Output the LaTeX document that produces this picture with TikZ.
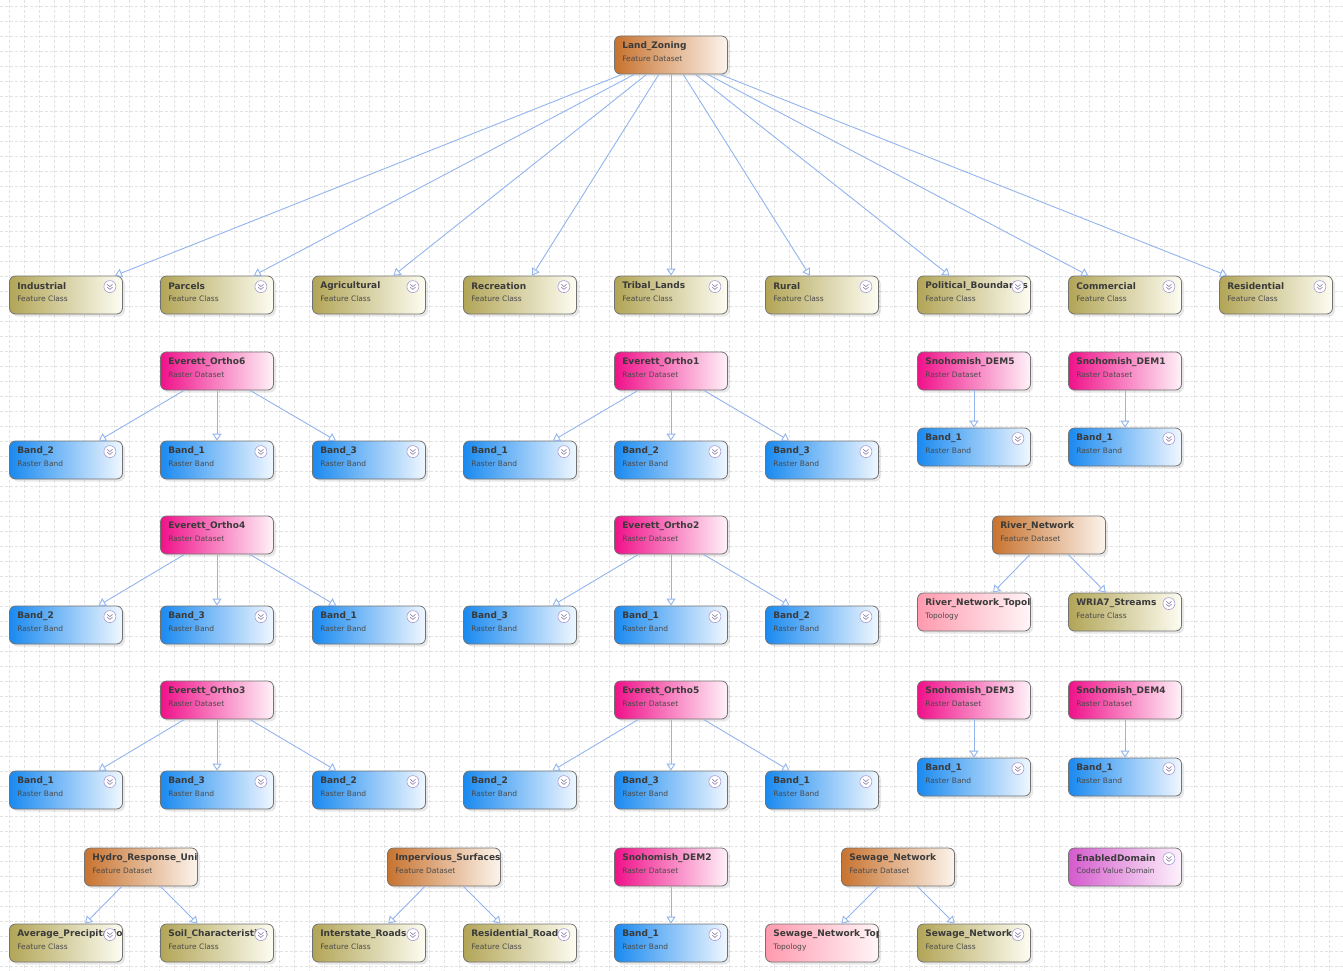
\documentclass[tikz,border=0pt]{standalone}
\usepackage{fontspec}
\setmainfont{DejaVu Sans}
\usetikzlibrary{arrows.meta,shadows,calc}
\definecolor{edgeblue}{HTML}{93B5EE}
\definecolor{gridc}{HTML}{E2E2E2}
\definecolor{fdL}{HTML}{C8732F}\definecolor{fdR}{HTML}{FCF4EC}
\definecolor{fcL}{HTML}{B2A557}\definecolor{fcR}{HTML}{FDFDF2}
\definecolor{rdL}{HTML}{F0118A}\definecolor{rdR}{HTML}{FFF2F8}
\definecolor{rbL}{HTML}{1A8AF0}\definecolor{rbR}{HTML}{F0F7FF}
\definecolor{tpL}{HTML}{FF9AAE}\definecolor{tpR}{HTML}{FFF6F8}
\definecolor{cvL}{HTML}{D45BCD}\definecolor{cvR}{HTML}{FDF2FC}
\definecolor{bordc}{HTML}{727272}
\definecolor{namec}{HTML}{3A3A3A}
\definecolor{subc}{HTML}{4A4A4A}
\definecolor{iconc}{HTML}{A99BD2}
\tikzset{
  box/.style={rectangle, rounded corners=6pt, minimum width=113pt, minimum height=38pt,
    inner sep=0pt, draw=bordc, line width=0.8pt,
    drop shadow={shadow xshift=2.5pt, shadow yshift=-2.5pt, opacity=0.18}},
  fd/.style={left color=fdL, right color=fdR},
  fc/.style={left color=fcL, right color=fcR},
  rd/.style={left color=rdL, right color=rdR},
  rb/.style={left color=rbL, right color=rbR},
  tp/.style={left color=tpL, right color=tpR},
  cv/.style={left color=cvL, right color=cvR},
  nametext/.style={inner sep=0pt, anchor=west, text=namec, font=\fontsize{9}{11}\selectfont\bfseries},
  subtext/.style={inner sep=0pt, anchor=west, text=subc, font=\fontsize{7.5}{9}\selectfont},
  edge/.style={draw=edgeblue, line width=0.9pt, -{Triangle[open,length=7pt,width=9pt]}},
  gridline/.style={draw=gridc, line width=0.5pt, dash pattern=on 3pt off 2pt}
}
\newcommand\gnode[6]{%
  \node[box,#4] (#1) at (#2,#3) {};
  \begin{scope}
    \clip[rounded corners=6pt] (#1.south west) rectangle (#1.north east);
    \node[nametext] at ([xshift=8pt,yshift=-10.5pt]#1.north west) {#5};
    \node[subtext] at ([xshift=8pt,yshift=-23.5pt]#1.north west) {#6};
  \end{scope}}
\newcommand\chev[1]{%
  \begin{scope}[shift={([xshift=-13pt,yshift=-11pt]#1.north east)}]
    \draw[iconc, line width=0.6pt, fill=white] (0pt,0pt) circle (6pt);
    \draw[iconc!80!black, line width=0.6pt] (-2.6pt,2.2pt) -- (0pt,0pt) -- (2.6pt,2.2pt);
    \draw[iconc!80!black, line width=0.6pt] (-2.6pt,-0.6pt) -- (0pt,-2.8pt) -- (2.6pt,-0.6pt);
  \end{scope}}
\begin{document}
\begin{tikzpicture}[x=1pt,y=-1pt]
\useasboundingbox (0,0) rectangle (1343,971);
\fill[white] (0,0) rectangle (1343,971);
\foreach \gx in {9,24,...,1343} \draw[gridline] (\gx,0) -- (\gx,971);
\foreach \gy in {6,21,...,971} \draw[gridline] (0,\gy) -- (1343,\gy);

% top
\gnode{lz}{671}{55}{fd}{Land\_Zoning}{Feature Dataset}
% feature classes row
\gnode{ind}{66}{295}{fc}{Industrial}{Feature Class}
\gnode{par}{217}{295}{fc}{Parcels}{Feature Class}
\gnode{agr}{369}{295}{fc}{Agricultural}{Feature Class}
\gnode{rec}{520}{295}{fc}{Recreation}{Feature Class}
\gnode{tri}{671}{295}{fc}{Tribal\_Lands}{Feature Class}
\gnode{rur}{822}{295}{fc}{Rural}{Feature Class}
\gnode{pol}{974}{295}{fc}{Political\_Boundaries}{Feature Class}
\gnode{com}{1125}{295}{fc}{Commercial}{Feature Class}
\gnode{res}{1276}{295}{fc}{Residential}{Feature Class}
% row 2 datasets
\gnode{o6}{217}{371}{rd}{Everett\_Ortho6}{Raster Dataset}
\gnode{o1}{671}{371}{rd}{Everett\_Ortho1}{Raster Dataset}
\gnode{d5}{974}{371}{rd}{Snohomish\_DEM5}{Raster Dataset}
\gnode{d1}{1125}{371}{rd}{Snohomish\_DEM1}{Raster Dataset}
\gnode{o6b2}{66}{460}{rb}{Band\_2}{Raster Band}
\gnode{o6b1}{217}{460}{rb}{Band\_1}{Raster Band}
\gnode{o6b3}{369}{460}{rb}{Band\_3}{Raster Band}
\gnode{o1b1}{520}{460}{rb}{Band\_1}{Raster Band}
\gnode{o1b2}{671}{460}{rb}{Band\_2}{Raster Band}
\gnode{o1b3}{822}{460}{rb}{Band\_3}{Raster Band}
\gnode{d5b1}{974}{447}{rb}{Band\_1}{Raster Band}
\gnode{d1b1}{1125}{447}{rb}{Band\_1}{Raster Band}
% row 3
\gnode{o4}{217}{535}{rd}{Everett\_Ortho4}{Raster Dataset}
\gnode{o2}{671}{535}{rd}{Everett\_Ortho2}{Raster Dataset}
\gnode{rn}{1049}{535}{fd}{River\_Network}{Feature Dataset}
\gnode{o4b2}{66}{625}{rb}{Band\_2}{Raster Band}
\gnode{o4b3}{217}{625}{rb}{Band\_3}{Raster Band}
\gnode{o4b1}{369}{625}{rb}{Band\_1}{Raster Band}
\gnode{o2b3}{520}{625}{rb}{Band\_3}{Raster Band}
\gnode{o2b1}{671}{625}{rb}{Band\_1}{Raster Band}
\gnode{o2b2}{822}{625}{rb}{Band\_2}{Raster Band}
\gnode{rnt}{974}{612}{tp}{River\_Network\_Topology}{Topology}
\gnode{wria}{1125}{612}{fc}{WRIA7\_Streams}{Feature Class}
% row 4
\gnode{o3}{217}{700}{rd}{Everett\_Ortho3}{Raster Dataset}
\gnode{o5}{671}{700}{rd}{Everett\_Ortho5}{Raster Dataset}
\gnode{d3}{974}{700}{rd}{Snohomish\_DEM3}{Raster Dataset}
\gnode{d4}{1125}{700}{rd}{Snohomish\_DEM4}{Raster Dataset}
\gnode{o3b1}{66}{790}{rb}{Band\_1}{Raster Band}
\gnode{o3b3}{217}{790}{rb}{Band\_3}{Raster Band}
\gnode{o3b2}{369}{790}{rb}{Band\_2}{Raster Band}
\gnode{o5b2}{520}{790}{rb}{Band\_2}{Raster Band}
\gnode{o5b3}{671}{790}{rb}{Band\_3}{Raster Band}
\gnode{o5b1}{822}{790}{rb}{Band\_1}{Raster Band}
\gnode{d3b1}{974}{777}{rb}{Band\_1}{Raster Band}
\gnode{d4b1}{1125}{777}{rb}{Band\_1}{Raster Band}
% row 5
\gnode{hru}{141}{867}{fd}{Hydro\_Response\_Units}{Feature Dataset}
\gnode{imp}{444}{867}{fd}{Impervious\_Surfaces}{Feature Dataset}
\gnode{d2}{671}{867}{rd}{Snohomish\_DEM2}{Raster Dataset}
\gnode{sew}{898}{867}{fd}{Sewage\_Network}{Feature Dataset}
\gnode{ed}{1125}{867}{cv}{EnabledDomain}{Coded Value Domain}
\gnode{avg}{66}{943}{fc}{Average\_Precipitation}{Feature Class}
\gnode{soil}{217}{943}{fc}{Soil\_Characteristics}{Feature Class}
\gnode{inter}{369}{943}{fc}{Interstate\_Roads}{Feature Class}
\gnode{resr}{520}{943}{fc}{Residential\_Roads}{Feature Class}
\gnode{d2b1}{671}{943}{rb}{Band\_1}{Raster Band}
\gnode{sewt}{822}{943}{tp}{Sewage\_Network\_Topology}{Topology}
\gnode{sewfc}{974}{943}{fc}{Sewage\_Network}{Feature Class}

% icons
\foreach \n in {ind,par,agr,rec,tri,rur,pol,com,res,
  o6b2,o6b1,o6b3,o1b1,o1b2,o1b3,d5b1,d1b1,
  o4b2,o4b3,o4b1,o2b3,o2b1,o2b2,wria,
  o3b1,o3b3,o3b2,o5b2,o5b3,o5b1,d3b1,d4b1,
  ed,avg,soil,inter,resr,d2b1,sewfc} {\chev{\n}}

% connectors
\foreach \c in {ind,par,agr,rec,tri,rur,pol,com,res} \draw[edge] (lz) -- (\c);
\foreach \c in {o6b2,o6b1,o6b3} \draw[edge] (o6) -- (\c);
\foreach \c in {o1b1,o1b2,o1b3} \draw[edge] (o1) -- (\c);
\draw[edge] (d5) -- (d5b1);
\draw[edge] (d1) -- (d1b1);
\foreach \c in {o4b2,o4b3,o4b1} \draw[edge] (o4) -- (\c);
\foreach \c in {o2b3,o2b1,o2b2} \draw[edge] (o2) -- (\c);
\draw[edge] (rn) -- (rnt);
\draw[edge] (rn) -- (wria);
\foreach \c in {o3b1,o3b3,o3b2} \draw[edge] (o3) -- (\c);
\foreach \c in {o5b2,o5b3,o5b1} \draw[edge] (o5) -- (\c);
\draw[edge] (d3) -- (d3b1);
\draw[edge] (d4) -- (d4b1);
\draw[edge] (hru) -- (avg);
\draw[edge] (hru) -- (soil);
\draw[edge] (imp) -- (inter);
\draw[edge] (imp) -- (resr);
\draw[edge] (d2) -- (d2b1);
\draw[edge] (sew) -- (sewt);
\draw[edge] (sew) -- (sewfc);
\end{tikzpicture}
\end{document}
